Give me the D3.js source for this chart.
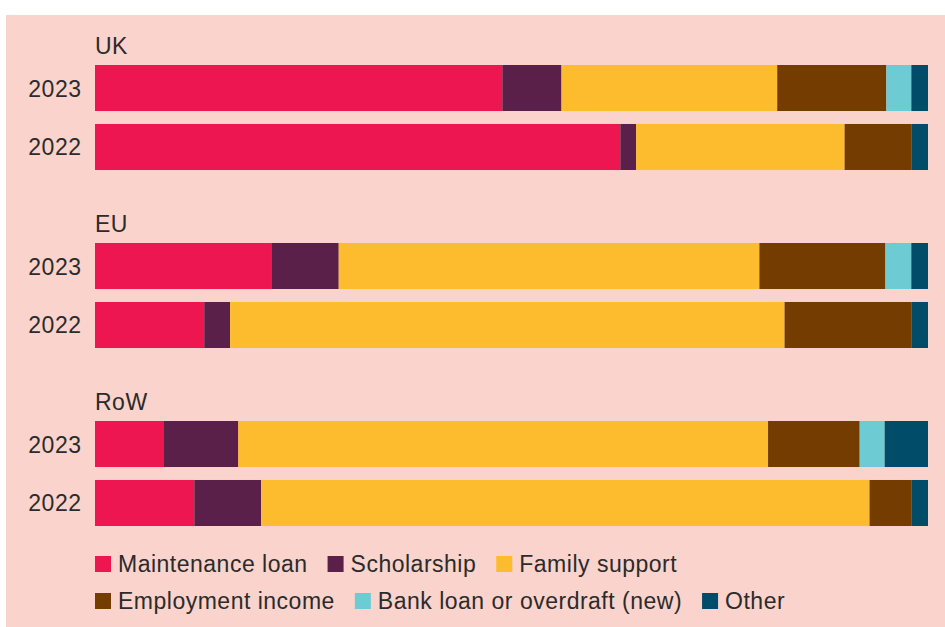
<!DOCTYPE html>
<html>
<head>
<meta charset="utf-8">
<script src="https://cdn.jsdelivr.net/npm/d3@7"></script>
<style>
  body { margin: 0; background: #ffffff; }
  text { font-family: "Liberation Sans", Arial, sans-serif; fill: #2b2b2b; letter-spacing: 0.5px; }
</style>
</head>
<body>
<svg id="chart" width="945" height="627"></svg>
<script>
// data, in percent
const groups = ["UK", "EU", "RoW"];
const years = ["2023", "2022"];
const sources = ["Maintenance loan", "Scholarship", "Family support", "Employment income", "Bank loan or overdraft (new)", "Other"];
const colours = ["#ee1650", "#5a2049", "#fdbb2e", "#753c00", "#6dcbd3", "#004c69"];

const maintenanceLoan = [48.9, 63.0, 21.2, 13.1, 8.2, 11.9];
const scholarship     = [7.1, 1.9, 8.0, 3.1, 9.0, 8.0];
const familySupport   = [25.9, 25.0, 50.4, 66.5, 63.6, 72.9];
const employment      = [13.1, 8.0, 15.1, 15.2, 11.0, 5.0];
const bankLoan        = [3.0, 0, 3.1, 0, 3.0, 0];
const other           = [2.0, 2.0, 2.0, 2.0, 5.2, 2.0];

// rows: UK 2023, UK 2022, EU 2023, EU 2022, RoW 2023, RoW 2022
let rows = [];
groups.forEach(function(g, gi){
  years.forEach(function(yr, yi){
    let i = gi * 2 + yi;
    rows.push({
      group: g, year: yr,
      "Maintenance loan": maintenanceLoan[i],
      "Scholarship": scholarship[i],
      "Family support": familySupport[i],
      "Employment income": employment[i],
      "Bank loan or overdraft (new)": bankLoan[i],
      "Other": other[i]
    });
  });
});

const svg = d3.select("#chart");

// pink panel
svg.append("rect")
  .attr("x", 6).attr("y", 15)
  .attr("width", 945 - 6).attr("height", 627 - 15)
  .attr("fill", "#f9d3cc");

const x = d3.scaleLinear().domain([0, 1]).range([95, 928]);
const yGroup = d3.scaleBand().domain(groups).range([65, 65 + 3 * 178]);
const yYear = d3.scaleBand().domain(years).range([0, 105]).paddingInner(0.22);
const colour = d3.scaleOrdinal().domain(sources).range(colours);

const stacked = d3.stack().keys(sources).offset(d3.stackOffsetExpand)(rows);

svg.append("g")
  .selectAll("g")
  .data(stacked)
  .join("g")
    .attr("fill", d => colour(d.key))
  .selectAll("rect")
  .data(d => d)
  .join("rect")
    .attr("x", d => x(d[0]))
    .attr("width", d => Math.max(0, x(d[1]) - x(d[0])))
    .attr("y", d => yGroup(d.data.group) + yYear(d.data.year))
    .attr("height", yYear.bandwidth());

// group titles
svg.append("g")
  .selectAll("text")
  .data(groups)
  .join("text")
    .attr("x", 95)
    .attr("y", d => yGroup(d) - 11)
    .attr("font-size", 23)
    .text(d => d);

// year labels
svg.append("g")
  .selectAll("text")
  .data(rows)
  .join("text")
    .attr("x", 81.5)
    .attr("y", d => yGroup(d.group) + yYear(d.year) + yYear.bandwidth() / 2 + 8.5)
    .attr("text-anchor", "end")
    .attr("font-size", 23)
    .text(d => d.year);

// legend, two rows of three
const legend = svg.append("g");
const legendRows = [sources.slice(0, 3), sources.slice(3)];
legendRows.forEach(function(items, ri){
  let cx = 95;
  let top = 556 + ri * 37;
  items.forEach(function(name){
    legend.append("rect")
      .attr("x", cx).attr("y", top)
      .attr("width", 16).attr("height", 16)
      .attr("fill", colour(name));
    let t = legend.append("text")
      .attr("x", cx + 23)
      .attr("y", top + 16)
      .attr("font-size", 23)
      .text(name);
    cx += 23 + t.node().getComputedTextLength() + 20;
  });
});
</script>
</body>
</html>
